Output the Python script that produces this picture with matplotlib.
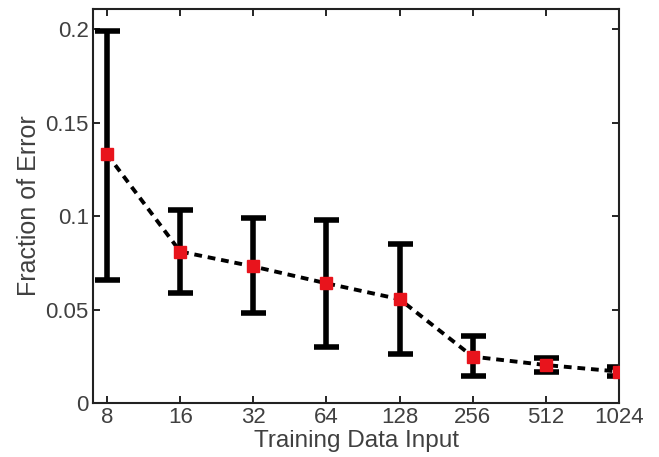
import matplotlib
matplotlib.use("Agg")
import matplotlib.pyplot as plt
from matplotlib.ticker import FixedLocator, FixedFormatter, NullLocator

plt.rcParams['font.family'] = ['Liberation Sans', 'DejaVu Sans']

x_vals = [8, 16, 32, 64, 128, 256, 512, 1024]
x_labels = ['8', '16', '32', '64', '128', '256', '512', '1024']
mean_err = [0.133, 0.081, 0.073, 0.064, 0.0555, 0.0248, 0.0203, 0.0168]
upper = [0.199, 0.103, 0.099, 0.098, 0.085, 0.036, 0.024, 0.019]
lower = [0.066, 0.059, 0.048, 0.030, 0.026, 0.0145, 0.0168, 0.0145]
y_ticks = [0, 0.05, 0.1, 0.15, 0.2]
y_labels = ['0', '0.05', '0.1', '0.15', '0.2']

fig = plt.figure(figsize=(6.59, 4.57), dpi=100)
ax = fig.add_axes([93/659, 1 - 403/457, (619-93)/659, (403-9)/457])

yerr = [[m - l for m, l in zip(mean_err, lower)], [u - m for m, u in zip(mean_err, upper)]]
ax.errorbar(x_vals, mean_err, yerr=yerr, fmt='none', ecolor='black', elinewidth=4,
            capsize=9, capthick=4, zorder=2)
ax.plot(x_vals, mean_err, linestyle=(0, (2, 1.5)), color='black', linewidth=2.8, zorder=3)
ax.plot(x_vals, mean_err, linestyle='none', marker='s', markersize=8,
        markerfacecolor='#e8141c', markeredgecolor='#e8141c', zorder=4)

ax.set_xscale('log', base=2)
ax.set_xlim(7, 1024)
ax.set_ylim(0, 0.2107)
ax.xaxis.set_major_locator(FixedLocator(x_vals))
ax.xaxis.set_major_formatter(FixedFormatter(x_labels))
ax.xaxis.set_minor_locator(NullLocator())
ax.set_yticks(y_ticks)
ax.set_yticklabels(y_labels)

ax.tick_params(direction='in', top=True, right=True, length=5, width=1.2,
               labelsize=16, labelcolor='#404040', pad=3)
for s in ax.spines.values():
    s.set_linewidth(1.5)
    s.set_color('#222222')

ax.set_xlabel('Training Data Input', fontsize=17.5, color='#404040', labelpad=1)
ax.set_ylabel('Fraction of Error', fontsize=18, color='#404040', labelpad=3)

fig.savefig('out.png', dpi=100)
